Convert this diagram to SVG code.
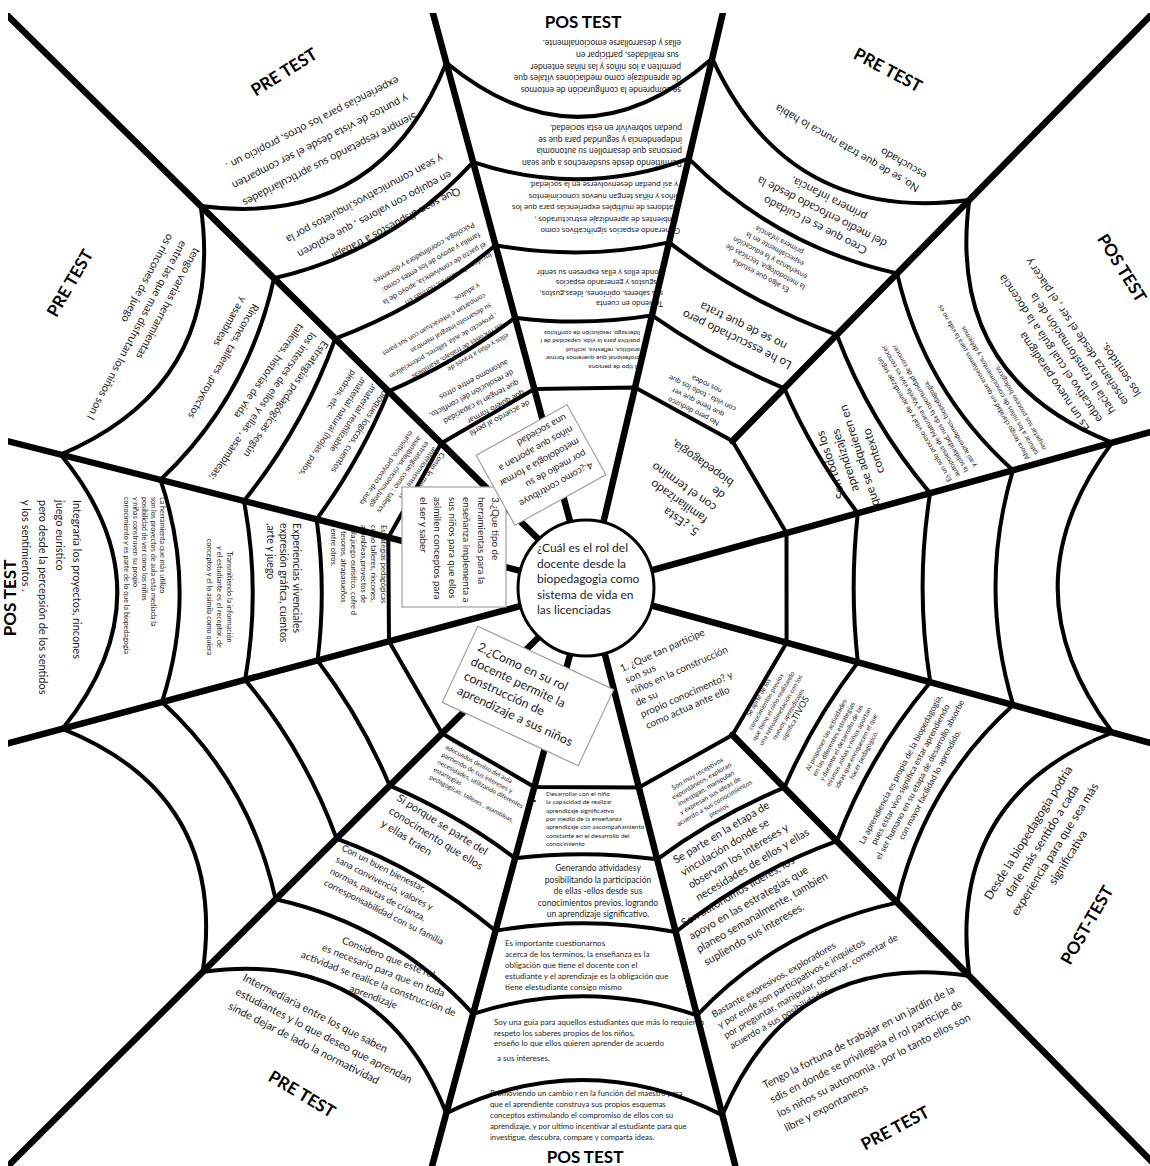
<svg xmlns="http://www.w3.org/2000/svg" width="1150" height="1166" viewBox="0 0 1150 1166">
<defs>
<style>
.w{fill:none;stroke:#000;stroke-linecap:round;stroke-linejoin:round}
.sp{stroke-width:6.5}
.rg{stroke-width:4}
.t{font-family:Lato,'Liberation Sans',sans-serif;fill:#1c1c1c}
.m{text-anchor:middle}
.lbl{font-family:Lato,'Liberation Sans',sans-serif;font-weight:bold;font-size:17px;fill:#000;text-anchor:middle}
.box{fill:#fff;stroke:#a0a0a0;stroke-width:1.2}
</style>
<clipPath id="frame"><rect x="8" y="13" width="1142" height="1153"/></clipPath>
</defs>
<rect width="1150" height="1166" fill="#fff"/>

<g id="cell-texts">
<g id="n-top-outer"><text class="t" transform="translate(681,87) rotate(180)" font-size="8.5"><tspan x="0" y="0">se comprende la configuración de entornos</tspan><tspan x="0" dy="11.7">de aprendizaje como mediaciones vitales que</tspan><tspan x="0" dy="11.7">permiten a los niños y las niñas entender</tspan><tspan x="0" dy="11.7"> sus realidades, participar en</tspan><tspan x="0" dy="11.7">ellas y desarrollarse emocionalmente.</tspan></text></g>
<g id="n-top-c4"><text class="t" transform="translate(682,160) rotate(180)" font-size="8.5"><tspan x="0" y="0">Permitiendo desde susderechos a que sean</tspan><tspan x="0" dy="11.7">personas  que desarrollen su autonomía</tspan><tspan x="0" dy="11.7">independencia y seguridad para que se</tspan><tspan x="0" dy="11.7">puedan sobrevivir en esta sociedad.</tspan></text></g>
<g id="n-top-c3"><text class="t" transform="translate(680,228) rotate(180)" font-size="8"><tspan x="0" y="0">Generando espacios significativos como</tspan><tspan x="0" dy="11.5"> ambientes de aprendizaje estructurados ,</tspan><tspan x="0" dy="11.5">reatdores de multiples experiencias para que los</tspan><tspan x="0" dy="11.5">niños y niñas tengan nuevos conocimientos</tspan><tspan x="0" dy="11.5"> y asi puedan desenvolverse en la sociedad.</tspan></text></g>
<g id="n-top-c2"><text class="t" transform="translate(663,301) rotate(180)" font-size="7.8"><tspan x="0" y="0">Teniendo en cuenta</tspan><tspan x="0" dy="10.5">sus saberes, opiniones, ideas,gustos,</tspan><tspan x="0" dy="10.5">disgustos y generando espacios</tspan><tspan x="0" dy="10.5">donde ellos y ellas expresen su sentir</tspan></text></g>
<g id="n-top-c1"><text class="t" transform="translate(640,365) rotate(180)" font-size="6.5"><tspan x="0" y="0">El tipo de persona</tspan><tspan x="0" dy="8.6">profesional  que queremos formar</tspan><tspan x="0" dy="8.6">analitica, reflexiva, actitud</tspan><tspan x="0" dy="8.6">positiva para la vida, capacidad de l</tspan><tspan x="0" dy="8.6">liderazgo, resolución de conflictos</tspan></text></g>

<g id="n-ur-outer"><text class="t" transform="translate(920,186) rotate(210)" font-size="11"><tspan x="0" y="0">No, se de que trata nunca lo habia</tspan><tspan x="0" dy="15">escuchado</tspan></text></g>
<g id="n-ur-c4"><text class="t m" transform="translate(822,212) rotate(207)" font-size="11.5"><tspan x="0" y="-11">Creo que es el cuidado</tspan><tspan x="0" dy="15">del medio enfocado desde la</tspan><tspan x="0" dy="15">primera infancia.</tspan></text></g>
<g id="n-ur-c3"><text class="t m" transform="translate(770,258) rotate(208)" font-size="7.5"><tspan x="0" y="-17.4">Es algo que estudia</tspan><tspan x="0" dy="10">la metodologia, técnicas de</tspan><tspan x="0" dy="10">enseñanza y la educación</tspan><tspan x="0" dy="10">especialmente en la</tspan><tspan x="0" dy="10">primera infancia</tspan></text></g>
<g id="n-ur-c2"><text class="t m" transform="translate(740,333) rotate(206)" font-size="12"><tspan x="0" y="-3.3">Lo he esscuchado pero</tspan><tspan x="0" dy="15">no se de que trata</tspan></text></g>
<g id="n-ur-c1"><text class="t m" transform="translate(700,398) rotate(206)" font-size="7.5"><tspan x="0" y="-12.4">No pero deduzco</tspan><tspan x="0" dy="10">que tiene que ver</tspan><tspan x="0" dy="10">con vida , todo los que</tspan><tspan x="0" dy="10">nos rodea</tspan></text></g>

<g id="n-r-outer"><text class="t" transform="translate(1090,428) rotate(236)" font-size="11.5"><tspan x="0" y="0">Es un nuevo paradigma</tspan><tspan x="0" dy="15.5">educativo el cual guía a la docencia</tspan><tspan x="0" dy="15.5">hacia la transformación de la</tspan><tspan x="0" dy="15.5">enseñanza desde el ser , el placer y</tspan><tspan x="0" dy="15.5">los sentidos.</tspan></text></g>
<g id="n-r-c4"><text class="t" transform="translate(1030,458) rotate(240)" font-size="7"><tspan x="0" y="0">Ahora tengo claridad en que enseñamos para la vida no es</tspan><tspan x="0" dy="9.5">saturar a los niños de conocimientos, y debemos</tspan><tspan x="0" dy="9.5">respetar sus proceso biologicos.</tspan></text></g>
<g id="n-r-c3"><text class="t" transform="translate(952,480) rotate(240)" font-size="7"><tspan x="0" y="0">Es un solo proceso vital y de aprendizaje según</tspan><tspan x="0" dy="9.5">autopoiesis de Maturana y Varela vivir es conocer</tspan><tspan x="0" dy="9.5">la solidaridad, nos da la oportunidad de conocer</tspan><tspan x="0" dy="9.5">y asi aprendemos, biopedagogia.</tspan></text></g>
<g id="n-r-c2"><text class="t m" transform="translate(852,458) rotate(-108)" font-size="12"><tspan x="0" y="-18.3">Son todos los</tspan><tspan x="0" dy="15">aprendizajes</tspan><tspan x="0" dy="15">que se adquieren en</tspan><tspan x="0" dy="15">contexto</tspan></text></g>

<g id="n-lr-c1"><text class="t m" transform="translate(777,708) rotate(-60)" font-size="6.5"><tspan x="0" y="-19">Se aprte de los</tspan><tspan x="0" dy="8.5">conocimientos previos</tspan><tspan x="0" dy="8.5">que tiene el niño realizando</tspan><tspan x="0" dy="8.5">una retroalimetación con los</tspan><tspan x="0" dy="8.5">nuevos aprendizajes</tspan><tspan x="0" dy="8.5">significa<tspan font-size="9">TIVOS</tspan></tspan></text></g>
<g id="n-lr-c2"><text class="t m" transform="translate(845,745) rotate(-62)" font-size="6.8"><tspan x="0" y="-19">Al proponer las actividades</tspan><tspan x="0" dy="8.5">en las diferentes estrategias</tspan><tspan x="0" dy="8.5">y durante el desarrollo de las</tspan><tspan x="0" dy="8.5">mismas ,niñas y niños aportan</tspan><tspan x="0" dy="8.5">ideas que enriquecen el que</tspan><tspan x="0" dy="8.5">hacer pedagogico.</tspan></text></g>
<g id="n-lr-c3"><text class="t m" transform="translate(915,777) rotate(-62)" font-size="8.5"><tspan x="0" y="-13.5">La aprendiencia es propia de la biopedagogía,</tspan><tspan x="0" dy="11">pues estar vivo significa estar aprendiendo</tspan><tspan x="0" dy="11">el ser humano en su etapa de desarrollo absorbe</tspan><tspan x="0" dy="11">con mayor facilidad lo aprendido.</tspan></text></g>
<g id="n-lr-outer"><text class="t m" transform="translate(1048,845) rotate(-58)" font-size="12"><tspan x="0" y="-19">Desde la biopedagogia  podria</tspan><tspan x="0" dy="15.5">darle más sentido a cada</tspan><tspan x="0" dy="15.5">experiencia para que sea más</tspan><tspan x="0" dy="15.5">significativa</tspan></text></g>

<g id="n-br-c1"><text class="t m" transform="translate(708,792) rotate(-30)" font-size="6.8"><tspan x="0" y="-19">Son muy receptivos</tspan><tspan x="0" dy="8.5">expontáneos, exploran</tspan><tspan x="0" dy="8.5">investigan, manipulan</tspan><tspan x="0" dy="8.5">y expresan sus ideas de</tspan><tspan x="0" dy="8.5">acuerdo a sus conocimientos</tspan><tspan x="0" dy="8.5">previos</tspan></text></g>
<g id="n-br-c2"><text class="t" transform="translate(676,864) rotate(-31)" font-size="11"><tspan x="0" y="0">Se parte en la etapa de</tspan><tspan x="0" dy="14.5">vinculación donde se</tspan><tspan x="0" dy="14.5">observan los intereses y</tspan><tspan x="0" dy="14.5">necesidades de ellos y ellas</tspan></text></g>
<g id="n-br-c3"><text class="t" transform="translate(684,927) rotate(-30)" font-size="11"><tspan x="0" y="0">Son autonomos lideres, los</tspan><tspan x="0" dy="15">apoyo en las estrategias que</tspan><tspan x="0" dy="15">planeo semanalmente, tambien</tspan><tspan x="0" dy="15">supliendo sus intereses.</tspan></text></g>
<g id="n-br-c4"><text class="t" transform="translate(714,1018) rotate(-30)" font-size="9.5"><tspan x="0" y="0">Bastante expresivos, exploradores</tspan><tspan x="0" dy="12">y por ende son participativos e inquietos</tspan><tspan x="0" dy="12">por preguntar, manipular, observar, comentar de</tspan><tspan x="0" dy="12">acuerdo a sus posibilidades.</tspan></text></g>
<g id="n-br-outer"><text class="t" transform="translate(765,1089) rotate(-27)" font-size="10.8"><tspan x="0" y="0">Tengo la fortuna de trabajar en un jardin de la</tspan><tspan x="0" dy="16">sdis en donde se privilegeia  el rol participe de</tspan><tspan x="0" dy="16">los niños su autonomia , por lo tanto ellos son</tspan><tspan x="0" dy="16">libre y expontaneos</tspan></text></g>

<g id="n-b-c1"><text class="t" font-size="6.5"><tspan x="546" y="796">Desarrollar con el niño</tspan><tspan x="546" dy="8.33">la capacidad de realizar</tspan><tspan x="546" dy="8.33">aprendizaje significativo</tspan><tspan x="546" dy="8.33">por medio de la enseñanza</tspan><tspan x="546" dy="8.33">aprendizaje con aacompañamiento</tspan><tspan x="546" dy="8.33">constante  en el desarrollo del</tspan><tspan x="546" dy="8.33">conocimiento</tspan></text><text class="t" x="533" y="803" font-size="6" fill="#777">•</text></g>
<g id="n-b-c2"><text class="t m" font-size="8.5"><tspan x="598" y="871">Generando atividadesy</tspan><tspan x="598" dy="11.5">posibilitando la participación</tspan><tspan x="598" dy="11.5">de ellas -ellos desde sus</tspan><tspan x="598" dy="11.5">conocimientos previos, logrando</tspan><tspan x="598" dy="11.5">un aprendizaje significativo.</tspan></text></g>
<g id="n-b-c3"><text class="t" font-size="8"><tspan x="505" y="946">Es importante cuestionarnos</tspan><tspan x="505" dy="11">acerca de  los terminos, la  enseñanza es la</tspan><tspan x="505" dy="11">obligación  que tiene el docente con el</tspan><tspan x="505" dy="11">estudiante y el aprendizaje es la obligación que</tspan><tspan x="505" dy="11">tiene elestudiante consigo mismo</tspan></text></g>
<g id="n-b-c4"><text class="t" font-size="8"><tspan x="494" y="1025">Soy una guia para aquellos estudiantes que más lo requieren</tspan><tspan x="494" dy="10.5">respeto los saberes propios de los niños,</tspan><tspan x="494" dy="10.5">enseño lo que ellos quieren aprender de acuerdo</tspan><tspan x="497" dy="15">a sus intereses.</tspan></text></g>
<g id="n-b-outer"><text class="t" font-size="7.8"><tspan x="490" y="1096">Promoviendo un cambio r en la función del maestro para</tspan><tspan x="490" dy="11">que el aprendiente construya sus propios esquemas</tspan><tspan x="490" dy="11">conceptos estimulando  el compromiso de ellos con su</tspan><tspan x="490" dy="11">aprendizaje, y por ultimo incentivar al estudiante para que</tspan><tspan x="490" dy="11">investigue, descubra, compare y comparta ideas.</tspan></text></g>

<g id="n-bl-c1"><text class="t" transform="translate(449,741) rotate(28)" font-size="6.5"><tspan x="0" y="0">Ambientes</tspan><tspan x="0" dy="8.5">adecuados dentro del aula</tspan><tspan x="0" dy="8.5">partiendo de sus intereses y</tspan><tspan x="0" dy="8.5">necesidades, utilizando diferentes</tspan><tspan x="0" dy="8.5">estartegias</tspan><tspan x="0" dy="8.5">pedagógicas: talleres , asambleas,</tspan></text></g>
<g id="n-bl-c2"><text class="t" transform="translate(396,800) rotate(32)" font-size="11"><tspan x="0" y="0">Si porque se parte del</tspan><tspan x="0" dy="15">conocimento que  ellos</tspan><tspan x="0" dy="15">y ellas traen</tspan></text></g>
<g id="n-bl-c3"><text class="t" transform="translate(341,850) rotate(27)" font-size="9.2"><tspan x="0" y="0">Con un buen bienestar,</tspan><tspan x="0" dy="13">sana convivencia, valores y</tspan><tspan x="0" dy="13">normas, pautas de crianza,</tspan><tspan x="0" dy="13">corresponsabilidad con su familia</tspan></text></g>
<g id="n-bl-c4"><text class="t m" transform="translate(381,977) rotate(21)" font-size="10"><tspan x="0" y="-17.5">Considero que este rol</tspan><tspan x="0" dy="14">es necesario para que en toda</tspan><tspan x="0" dy="14">actividad se realice la construcción de</tspan><tspan x="0" dy="14">aprendizaje</tspan></text></g>
<g id="n-bl-outer"><text class="t" transform="translate(242,980) rotate(27)" font-size="11"><tspan x="0" y="0">Intermediaria entre los que saben</tspan><tspan x="0" dy="16">estudiantes y lo que deseo que aprendan</tspan><tspan x="0" dy="16">sinde dejar de lado la normatividad</tspan></text></g>

<g id="n-l-outer"><text class="t" transform="translate(73,500) rotate(90)" font-size="11"><tspan x="0" y="0">Integraría  los  proyectos, rincones</tspan><tspan x="0" dy="17">juego euristico</tspan><tspan x="0" dy="17">pero desde la percepsión de los sentidos</tspan><tspan x="0" dy="17">y los sentimientos .</tspan></text></g>
<g id="n-l-c4"><text class="t" transform="translate(160,497) rotate(90)" font-size="7.2"><tspan x="0" y="0">La herramienta que más utilizo</tspan><tspan x="0" dy="9">son los proyectos de aula esta mediada la</tspan><tspan x="0" dy="9">posibilidad de ver como los niños</tspan><tspan x="0" dy="9">y niñas construyen su propio</tspan><tspan x="0" dy="9">conocimiento y es parte de lo que la biopedagogía</tspan></text></g>
<g id="n-l-c3"><text class="t m" transform="translate(227,597) rotate(90)" font-size="7.2"><tspan x="0" y="0">Transmitiendo la información</tspan><tspan x="0" dy="10">y el estudiante es el receptor, de</tspan><tspan x="0" dy="10">conceptos y el lo asimila como quiera</tspan></text></g>
<g id="n-l-c2"><text class="t" transform="translate(293,523) rotate(90)" font-size="10.5"><tspan x="0" y="0">Experiencias vivenciales</tspan><tspan x="0" dy="13">expresión gráfica, cuentos</tspan><tspan x="0" dy="13">,arte y juego</tspan></text></g>
<g id="n-l-c1"><text class="t" transform="translate(381,525) rotate(90)" font-size="7.5"><tspan x="0" y="0">Estrategias pedagógicas</tspan><tspan x="0" dy="10">como  talleres, rincones,</tspan><tspan x="0" dy="10">asambleas,proyectos de</tspan><tspan x="0" dy="10">aula,juego euristico, cofre d</tspan><tspan x="0" dy="10">e tesoros, atrapasueños</tspan><tspan x="0" dy="10">, entre otros.</tspan></text></g>

<g id="n-ul-outer"><text class="t" transform="translate(194,247) rotate(118)" font-size="11"><tspan x="0" y="0">tengo varias  herramientas</tspan><tspan x="0" dy="15">entre las que  mas disfrutan los niños son l</tspan><tspan x="0" dy="15">os rincones de juego</tspan></text></g>
<g id="n-ul-c4"><text class="t" transform="translate(253,303) rotate(120)" font-size="10.5"><tspan x="0" y="0">Rincones, talleres ,proyectos</tspan><tspan x="0" dy="14">y asambleas</tspan></text></g>
<g id="n-ul-c3"><text class="t" transform="translate(323,340) rotate(125)" font-size="10.5"><tspan x="0" y="0">Estrategias pedagógicas según</tspan><tspan x="0" dy="15">los interses de ellos y ellas , asambleas;</tspan><tspan x="0" dy="15">talleres, historias de vida</tspan></text></g>
<g id="n-ul-c2"><text class="t" transform="translate(383,390) rotate(123)" font-size="9"><tspan x="0" y="0">bloques logicos, cuentos</tspan><tspan x="0" dy="12.5">,material reutilizable</tspan><tspan x="0" dy="12.5">,material natural (hojas, palos,</tspan><tspan x="0" dy="12.5">piedras, etc</tspan></text></g>
<g id="n-ul-c1"><text class="t" transform="translate(441,452) rotate(125)" font-size="7.5"><tspan x="0" y="0">Como lo mencione</tspan><tspan x="0" dy="9.5">anteriormente con</tspan><tspan x="0" dy="9.5">estrategias como : talleres</tspan><tspan x="0" dy="9.5">asambleas, rincones,juego</tspan><tspan x="0" dy="9.5">eurisitico, proyecto de aula</tspan></text></g>

<g id="n-tl-outer"><text class="t" transform="translate(415,112) rotate(153)" font-size="11"><tspan x="0" y="0">Siempre respetando sus aprticularidades</tspan><tspan x="0" dy="20">y puntos de vista desde el ser comparten</tspan><tspan x="0" dy="20">experiencias para los otros, propicio un .</tspan></text></g>
<g id="n-tl-c4"><text class="t" transform="translate(458,187) rotate(152)" font-size="10.8"><tspan x="0" y="0">Que sean dispuestos a trabajar</tspan><tspan x="0" dy="18.5">en equipo con valores , que exploren</tspan><tspan x="0" dy="18.5">y sean comunicativos,inquietos por la</tspan></text></g>
<g id="n-tl-c3"><text class="t" transform="translate(490,252) rotate(150)" font-size="7.5"><tspan x="0" y="0">Inculcando valores, normas en</tspan><tspan x="0" dy="11.5">el pacto de convivencia, apoyo de la</tspan><tspan x="0" dy="11.5">familia y apoyo de los entes como:</tspan><tspan x="0" dy="11.5">Psicologa, coordinadora y docentes</tspan></text></g>
<g id="n-tl-c2"><text class="t" transform="translate(507,333) rotate(150)" font-size="7"><tspan x="0" y="0">ellos y ellas a través de</tspan><tspan x="0" dy="11.5">los rincones de trabajo, asambleas</tspan><tspan x="0" dy="11.5">, proyecto de aula, talleres, potencializan</tspan><tspan x="0" dy="11.5">su desarrollo integral mientras</tspan><tspan x="0" dy="11.5">compartan e interactuan con sus pares</tspan><tspan x="0" dy="11.5">y adultos.</tspan></text></g>
<g id="n-tl-c1"><text class="t" transform="translate(528,400) rotate(152)" font-size="8"><tspan x="0" y="0">de acuerdo al perfil</tspan><tspan x="0" dy="11.5">que quiero formar</tspan><tspan x="0" dy="11.5">que tengan la capacidad</tspan><tspan x="0" dy="11.5">de resolución del conflicto,</tspan><tspan x="0" dy="11.5">autonomo entre otros</tspan></text></g>

<g id="q1"><text class="t" transform="translate(622,672) rotate(-24)" font-size="10"><tspan x="0" y="0">1. ¿Que tan participe</tspan><tspan x="0" dy="12.5">son sus</tspan><tspan x="0" dy="12.5">niños en la construcción</tspan><tspan x="0" dy="12.5">de su</tspan><tspan x="0" dy="12.5">propio conocimento? y</tspan><tspan x="0" dy="12.5">como actua ante ello</tspan></text></g>
<g id="q5"><text class="t" transform="translate(700,530) rotate(215)" font-size="12"><tspan x="0" y="0">5. ¿Esta</tspan><tspan x="0" dy="15">familiarizado</tspan><tspan x="0" dy="15">con el termino</tspan><tspan x="0" dy="15">de</tspan><tspan x="0" dy="15">biopedagogia,</tspan></text></g>
</g>

<g id="connectors" clip-path="url(#frame)">
<path class="w sp" d="M588,588 L1407.5,813.8 M732.4,734.9 L1183.8,1194.3 M588,588 L798,1411.7 M588,588 L366.6,1408.7 M588,588 L-14.1,1188 M588,588 L-233,808 M588,588 L-236,379.5 M588,588 L-17.2,-8.9 M588,588 L366.6,-232.7 M588,588 L782.1,-239.6 M732.4,441.1 L1183.8,-18.3 M588,588 L1407.1,360.9"/>
<path class="w rg" d="M786.6,642.7 L732.4,734.9 L638.9,787.6 L534.3,786.9 L442.1,733.4 L389,641.3 L388.3,537.5 L441.3,443.3 L534.3,389.1 L635.1,387.4 L732.4,441.1 L786.5,533 Z"/>
<path class="w rg" d="M857.9,662.4 Q813.4,720.5 784.3,787.7 Q716.4,815.8 657.2,859.3 Q586.2,849.5 515.1,858.3 Q456.9,814.2 389.7,785.7 Q361.4,718.5 317.5,660.5 Q326.5,589.8 316.6,519.3 Q360.2,459.6 388.6,391.4 Q456.3,362.1 515.1,317.7 Q583.7,326.5 652,315.4 Q714.2,359 784.3,388.3 Q813.3,455.3 857.8,513.2 Q849.5,588 857.9,662.4 Z"/>
<path class="w rg" d="M930.3,682.3 Q869.9,753.7 836.8,841.2 Q748.5,872.9 675.7,932 Q585.7,915 495.5,930.8 Q424,870.9 336.6,838.6 Q304.7,751.2 245.1,679.9 Q261,590.3 243.9,500.9 Q303.1,427.5 335.2,338.7 Q423.3,305.5 495.5,245.2 Q582.6,261 669.1,242.4 Q745.8,301.6 836.8,334.8 Q869.7,422 930.1,493.1 Q915,588 930.3,682.3 Z"/>
<path class="w rg" d="M1013.2,705.1 Q924.2,785.7 897.1,902.6 Q779.5,927.8 696.9,1015.3 Q585.3,978 473.1,1013.8 Q392.4,925.4 275.6,899.3 Q250.1,782.7 162,702.1 Q198,590.7 160.5,479.8 Q248.2,396.5 274,278.3 Q391.5,251.1 473.1,162.2 Q581.5,198 688.7,158.6 Q776.2,246.4 897.1,273.4 Q924,390.1 1012.9,470.2 Q978,588 1013.2,705.1 Z"/>
<path class="w rg" d="M1112.5,732.5 Q945.8,798.3 969.3,976 Q791.7,949.5 722.4,1115.1 Q584.8,1045.8 446.3,1113.2 Q379.9,947.1 202.7,972 Q228.4,795.2 62.6,728.8 Q173,590.9 60.6,454.6 Q226.5,384.3 200.7,206 Q378.9,229.5 446.3,62.8 Q581.1,173 712.2,58.4 Q788.2,224.5 969.3,200 Q945.6,377.4 1112.2,442.6 Q1003,588 1112.5,732.5 Z"/>
</g>

<g id="center">
<circle cx="586" cy="588" r="68" fill="#fff" stroke="#000" stroke-width="3"/>
<text class="t" font-size="12"><tspan x="537" y="552">¿Cuál  es el rol del</tspan><tspan x="537" dy="15.5">docente  desde la</tspan><tspan x="537" dy="15.5">biopedagogia como</tspan><tspan x="537" dy="15.5">sistema de vida en</tspan><tspan x="537" dy="15.5">las  licenciadas</tspan></text>
</g>

<g id="q2" transform="translate(528,696) rotate(25)">
<rect class="box" x="-75" y="-42" width="150" height="84"/>
<text class="t" font-size="12.5"><tspan x="-66" y="-20">2.¿Como en su rol</tspan><tspan x="-66" dy="16">docente permite la</tspan><tspan x="-66" dy="16">construcción de</tspan><tspan x="-66" dy="16">aprendizaje a sus niños</tspan></text>
</g>

<g id="q3">
<rect class="box" x="402" y="487" width="104" height="120"/>
<text class="t" transform="translate(492,497) rotate(90)" font-size="9.8"><tspan x="0" y="0">3.¿Que tipo de</tspan><tspan x="0" dy="14.5">herramientas para la</tspan><tspan x="0" dy="14.5">enseñanza implementa a</tspan><tspan x="0" dy="14.5">sus niños para que ellos</tspan><tspan x="0" dy="14.5">asimilen conceptos para</tspan><tspan x="0" dy="14.5">el ser y saber</tspan></text>
</g>

<g id="q4" transform="translate(541,465) rotate(151)">
<rect class="box" x="-52" y="-40" width="104" height="80"/>
<text class="t" font-size="9.6"><tspan x="-45" y="-21">4.¿como contribuye</tspan><tspan x="-45" dy="13.6">por medio de su</tspan><tspan x="-45" dy="13.6">metodologia a formar</tspan><tspan x="-45" dy="13.6">niños que aportan a</tspan><tspan x="-45" dy="13.6">una sociedad</tspan></text>
</g>

<g id="labels">
<text class="lbl" x="583" y="28">POS TEST</text>
<text class="lbl" transform="translate(888,70) rotate(28)" y="6">PRE TEST</text>
<text class="lbl" transform="translate(1122,268) rotate(58)" y="6">POS TEST</text>
<text class="lbl" transform="translate(1087,925) rotate(-60)" y="6" font-size="18">POST-TEST</text>
<text class="lbl" transform="translate(895,1128) rotate(-28)" y="6">PRE TEST</text>
<text class="lbl" x="585" y="1163">POS TEST</text>
<text class="lbl" transform="translate(302,1094) rotate(31)" y="6">PRE TEST</text>
<text class="lbl" transform="translate(10,598) rotate(-90)" y="6">POS TEST</text>
<text class="lbl" transform="translate(70,283) rotate(-60)" y="6">PRE TEST</text>
<text class="lbl" transform="translate(284,72) rotate(-32)" y="6">PRE TEST</text>
</g>
</svg>
